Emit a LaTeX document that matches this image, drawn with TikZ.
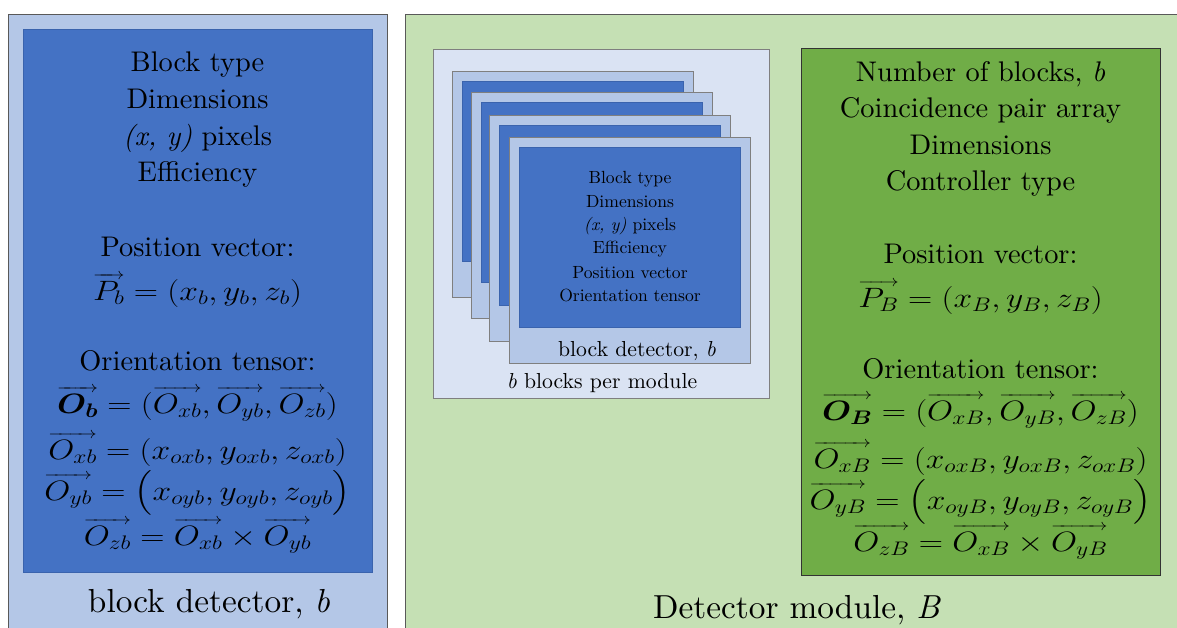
\RequirePackage{fix-cm}
\documentclass[tikz,border=0pt]{standalone}
\usepackage{amsmath,bm,graphicx}
\usepackage{fontspec}
\setmainfont{lmroman10-regular.otf}[ItalicFont=lmroman10-italic.otf,BoldFont=lmroman10-bold.otf,BoldItalicFont=lmroman10-bolditalic.otf]
\usetikzlibrary{calc}
\definecolor{lblue}{HTML}{B4C7E7}
\definecolor{dblue}{HTML}{4472C4}
\definecolor{dblueedge}{HTML}{3A63AD}
\definecolor{lgreen}{HTML}{C5E0B4}
\definecolor{mgreen}{HTML}{70AD47}
\definecolor{insetc}{HTML}{DAE3F3}
\definecolor{edgegray}{HTML}{595959}
\definecolor{cardedge}{HTML}{7F7F7F}
\newcommand{\fsz}[1]{\fontsize{#1}{#1}\selectfont}
\newcommand{\mth}[1]{{\fsz{28}\scalebox{1.2}[1]{$#1$}}}
\newcommand{\ovr}[1]{\mathord{\setbox0=\hbox{$#1$}\rlap{\raisebox{\dimexpr\ht0+1.5pt\relax}{\hbox to \wd0{\fontsize{16}{16}\selectfont\rightarrowfill}}}\box0}}
\begin{document}
\begin{tikzpicture}[x=1pt,y=-1pt,
  outerbox/.style={draw=edgegray,line width=1pt},
  cardbox/.style={fill=lblue,draw=cardedge,line width=0.8pt},
  cardinner/.style={fill=dblue,draw=dblueedge,line width=0.6pt},
  bigtxt/.style={inner sep=0pt,anchor=base,font=\fsz{28.4}},
  smalltxt/.style={inner sep=0pt,anchor=base,font=\fsz{17.6}},
  labeltxt/.style={inner sep=0pt,anchor=base,font=\fsz{33.3}},
  cardlabel/.style={inner sep=0pt,anchor=base,font=\fsz{21.7}}]
\useasboundingbox (0,0) rectangle (1177,628);
\fill[white] (0,0) rectangle (1177,628);
\clip (0,0) rectangle (1177,628);
% ---------- left panel ----------
\draw[outerbox,fill=lblue] (8,15) rectangle (387,650);
\draw[fill=dblue,draw=dblueedge,line width=0.6pt] (23,29) rectangle (372,572);
\node[bigtxt] (l1) at (197.5,72) {Block type};
\node[bigtxt] (l2) at (197.5,109) {Dimensions};
\node[bigtxt] (l3) at (197.5,146) {\textit{(x, y)} pixels};
\node[bigtxt] (l4) at (197.5,182) {Efficiency};
\node[bigtxt] (l5) at (197.5,257) {Position vector:};
\node[bigtxt] (l6) at (197.5,300) {\mth{\ovr{P_b} = (x_b, y_b, z_b)}};
\node[bigtxt] (l7) at (197.5,370) {Orientation tensor:};
\node[bigtxt] (l8) at (197.5,413) {\mth{\ovr{\boldsymbol{O}_{\boldsymbol{b}}} = (\ovr{O_{xb}}, \ovr{O_{yb}}, \ovr{O_{zb}})}};
\node[bigtxt] (l9) at (197.5,459) {\mth{\ovr{O_{xb}} = (x_{oxb}, y_{oxb}, z_{oxb})}};
\node[bigtxt] (l10) at (197.5,500) {\mth{\ovr{O_{yb}} = \bigl(x_{oyb}, y_{oyb}, z_{oyb}\bigr)}};
\node[bigtxt] (l11) at (197.5,545) {\mth{\ovr{O_{zb}} = \ovr{O_{xb}} \times \ovr{O_{yb}}}};
\node[labeltxt] (llab) at (209,612) {block detector, \textit{b}};
% ---------- right panel ----------
\draw[outerbox,fill=lgreen] (405,15) rectangle (1200,650);
% inset with stacked cards
\draw[draw=cardedge,line width=0.8pt,fill=insetc] (433,49) rectangle (769,398);
\foreach \cx/\cy in {452/71, 471/92, 489/115, 509/137}{
  \draw[cardbox] (\cx,\cy) rectangle ++(241,226);
  \draw[cardinner] ($(\cx,\cy)+(10,10)$) rectangle ++(221,180);
}
\node[smalltxt] (c1) at (630,184) {Block type};
\node[smalltxt] (c2) at (630,208) {Dimensions};
\node[smalltxt] (c3) at (630,231) {\textit{(x, y)} pixels};
\node[smalltxt] (c4) at (630,254) {Efficiency};
\node[smalltxt] (c5) at (630,278) {Position vector};
\node[smalltxt] (c6) at (630,301) {Orientation tensor};
\node[cardlabel] (clab) at (637,356) {block detector, \textit{b}};
\node[cardlabel] (ilab) at (602,388) {\textit{b} blocks per module};
% green box
\draw[fill=mgreen,draw=black!80,line width=1pt] (801,49) rectangle (1160,575);
\node[bigtxt] (r1) at (980.5,82) {Number of blocks, \textit{b}};
\node[bigtxt] (r2) at (980.5,118) {Coincidence pair array};
\node[bigtxt] (r3) at (980.5,155) {Dimensions};
\node[bigtxt] (r4) at (980.5,191) {Controller type};
\node[bigtxt] (r5) at (980.5,263) {Position vector:};
\node[bigtxt] (r6) at (980.5,307) {\mth{\ovr{P_B} = (x_B, y_B, z_B)}};
\node[bigtxt] (r7) at (980.5,378) {Orientation tensor:};
\node[bigtxt] (r8) at (980.5,420) {\mth{\ovr{\boldsymbol{O}_{\boldsymbol{B}}} = (\ovr{O_{xB}}, \ovr{O_{yB}}, \ovr{O_{zB}})}};
\node[bigtxt] (r9) at (980.5,468) {\mth{\ovr{O_{xB}} = (x_{oxB}, y_{oxB}, z_{oxB})}};
\node[bigtxt] (r10) at (980.5,509) {\mth{\ovr{O_{yB}} = \bigl(x_{oyB}, y_{oyB}, z_{oyB}\bigr)}};
\node[bigtxt] (r11) at (980.5,551) {\mth{\ovr{O_{zB}} = \ovr{O_{xB}} \times \ovr{O_{yB}}}};
\node[labeltxt] (rlab) at (797,618) {Detector module, \textit{B}};
\end{tikzpicture}
\end{document}
